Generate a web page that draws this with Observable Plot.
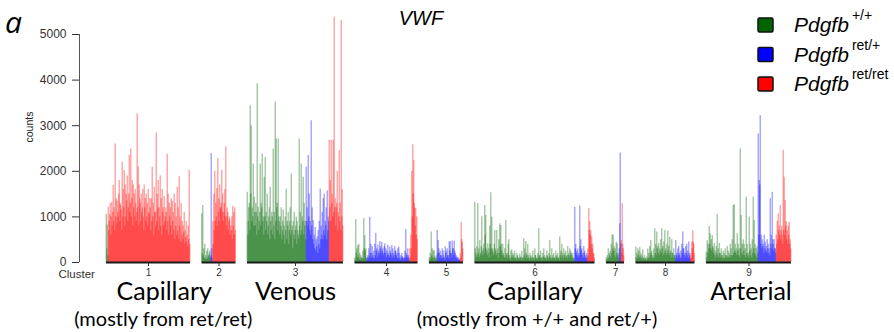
<!DOCTYPE html>
<html><head><meta charset="utf-8">
<script src="https://cdn.jsdelivr.net/npm/d3@7"></script>
<script src="https://cdn.jsdelivr.net/npm/@observablehq/plot@0.6"></script>
<style>
html,body{margin:0;padding:0;background:#fff;}
#chart{position:relative;width:894px;height:332px;overflow:hidden;background:#fff;}
#chart svg{position:absolute;left:0;top:0;}
</style></head><body><div id="chart"></div>
<script>
// ---------------- data ----------------
const genotypes = ["+/+", "ret/+", "ret/ret"];
const genotypeColors = ["#006400", "#0000ff", "#ff0000"];
const clusterLabels = ["1", "2", "3", "4", "5", "6", "7", "8", "9"];
const yTicks = [0, 1000, 2000, 3000, 4000, 5000];
const groupLabels = ["Capillary", "Venous", "Capillary", "Arterial"];
const groupSpans = [["1", "2"], ["3", "3"], ["6", "6"], ["9", "9"]];
const noteLabels = ["(mostly from ret/ret)", "(mostly from +/+ and ret/+)"];
const noteSpans = [["1", "2"], ["6", "6"]];

// VWF counts per cell, in cell order, per cluster and genotype
const cluster1_wt = [1060,300, 820,150];
const cluster1_het = [];
const cluster1_ret = [1210,700, 900,1050, 1300,600, 1000,1320, 800,1100, 1690,900, 1200,700, 2600,1000, 1400,850, 1350,1100, 1000,1500, 1800,900, 1300,1250, 1150,700, 2200,1000, 1600,1200, 2020,800, 1700,1000, 1500,1350, 1900,900, 1200,1500, 2350,1100, 1300,2490, 1000,1400, 1800,800, 1700,1200, 1500,1000, 1600,1300, 900,1100, 3260,1200, 2100,800, 1700,1400, 1300,900, 1500,1100, 1200,1600, 1000,700, 1700,1200, 1400,900, 1500,1000, 1300,800, 1600,1100, 1050,1400, 1200,700, 1400,900, 2090,1000, 1300,600, 1650,1100, 1100,800, 2840,900, 1500,1200, 1800,700, 1200,1000, 1900,800, 1400,600, 1600,1100, 1200,800, 1450,900, 1000,1200, 1100,700, 2370,900, 1500,600, 1300,1000, 1200,800, 1400,600, 1350,900, 1100,700, 1500,500, 1300,800, 1000,600, 1650,700, 1200,500, 1880,800, 1000,450, 1300,600, 900,500, 800,650, 1100,400, 700,550, 900,450, 600,350, 800,500, 2020,400];

const cluster2_wt = [1070,200, 1250,150, 300,80, 400,100, 150,60, 250,80, 300,120, 150,200, 250,100];
const cluster2_het = [150,2390, 300,100];
const cluster2_ret = [900,400, 1500,700, 2000,900, 1300,1000, 1620,800, 2280,1100, 1400,900, 1700,1200, 1200,1300, 2020,1100, 1500,900, 1100,1300, 1600,1000, 2540,800, 1000,1200, 1100,700, 900,1000, 950,600, 800,700, 1000,500, 1230,800, 1100,600, 1200,700];

const cluster3_wt = [1540,600, 900,1200, 1300,700, 3440,1500, 3000,900, 1200,1000, 2160,800, 1430,1100, 800,1300, 1100,600, 3920,1000, 1210,700, 900,1100, 2160,800, 1300,1200, 2380,900, 1000,600, 1870,1000, 2300,700, 1100,900, 1500,600, 800,1000, 1200,500, 1650,900, 700,1100, 1000,600, 2490,800, 1100,500, 3520,900, 2710,1200, 1300,700, 2710,1000, 900,600, 1000,800, 1200,500, 700,900, 1150,600, 800,400, 1000,700, 1610,500, 900,800, 1100,400, 700,900, 1200,600, 1940,700, 800,300, 900,600, 1100,500, 700,800, 1000,400, 900,700, 600,500, 2710,800, 1100,600, 2160,700, 1000,900, 1870,600, 1300,800, 900,500];
const cluster3_het = [2090,900, 1200,800, 2350,1000, 1500,700, 900,600, 3110,800, 1200,500, 920,400, 600,300, 770,250, 500,350, 560,200, 700,400, 900,300, 1610,500, 800,600, 1100,500, 1400,700, 1500,600, 900,800, 1200,500, 1570,700, 1000,900];
const cluster3_ret = [2680,1200, 1800,900, 2680,1300, 1500,1000, 2680,1100, 5380,1200, 1400,800, 1200,1300, 2000,700, 1100,1000, 2460,900, 1300,700, 5310,1000, 1600,800];

const cluster4_wt = [100,50, 940,200, 300,100, 370,150, 400,80, 200,50, 150,100, 100,60, 250,80, 960,300, 590,250, 300,100];
const cluster4_het = [50,100, 150,80, 300,120, 990,200, 400,100, 200,350, 150,100, 250,80, 400,150, 640,250, 300,100, 380,200, 250,150, 460,300, 350,200, 440,250, 300,150, 200,350, 410,200, 300,100, 250,150, 380,200, 150,100, 340,250, 200,150, 370,100, 300,200, 150,100, 350,250, 250,150, 200,100, 300,80, 340,200, 100,50, 150,80, 200,120, 120,60, 100,80, 250,100, 720,200, 150,100, 300,150, 100,50];
const cluster4_ret = [300,100, 600,300, 2000,1000, 2580,1500, 2240,1300, 1200,800, 1180,600, 1000,500];

const cluster5_wt = [100,50, 200,100, 670,150, 300,100, 250,80, 260,120, 100,50, 150,80];
const cluster5_het = [700,200, 480,300, 200,100, 250,150, 150,80, 300,100, 250,150, 100,50, 340,200, 250,100, 300,150, 150,80, 450,250, 460,200, 200,100, 470,300, 300,150, 470,250, 200,100, 150,80, 120,60, 100,50, 80,40];
const cluster5_ret = [200,100, 880,500, 450,300];

const cluster6_wt = [1320,300, 200,100, 350,150, 1290,200, 300,100, 480,150, 200,350, 1000,250, 150,300, 400,200, 1250,600, 1030,300, 250,150, 410,200, 300,100, 800,400, 1530,300, 990,250, 300,150, 200,400, 700,300, 250,150, 700,200, 300,100, 500,200, 850,350, 810,400, 250,150, 400,200, 150,100, 300,100, 920,200, 150,80, 200,400, 500,150, 100,50, 250,100, 280,150, 100,200, 150,80, 250,100, 100,50, 200,120, 150,80, 100,60, 180,100, 120,50, 250,100, 100,60, 520,150, 300,100, 460,200, 150,80, 400,150, 100,50, 200,100, 150,80, 120,60, 250,100, 100,50, 300,150, 150,80, 100,60, 200,100, 740,150, 150,80, 250,100, 100,50, 200,120, 300,80, 150,100, 100,50, 250,150, 120,60, 200,100, 480,150, 100,60, 300,100, 150,80, 200,100, 100,50, 250,120, 150,80, 200,100, 100,50, 560,150, 250,100, 400,200, 150,80, 300,150, 200,100, 250,120, 150,80, 350,150, 200,100, 300,150, 250,200, 150,100, 200,80, 100,50];
const cluster6_het = [1210,300, 400,200, 250,150, 300,100, 200,150, 1240,350, 500,250, 300,150, 200,100, 350,200, 250,100, 150,80, 200,100];
const cluster6_ret = [300,150, 1180,700, 900,600, 700,400, 560,300, 400,200, 200,100];

const cluster7_wt = [100,50, 150,80, 300,100, 200,150, 250,100, 400,200, 610,300, 600,250, 350,150, 300,100, 450,200, 410,150, 200,100];
const cluster7_het = [300,850, 2400,400];
const cluster7_ret = [480,200, 1290,400, 300,150];

const cluster8_wt = [340,100, 200,80, 300,150, 250,100, 330,120, 200,80, 150,60, 280,100, 100,50, 150,80, 80,40, 120,60, 300,100, 200,80, 350,150, 480,200, 250,100, 150,80, 300,100, 740,200, 400,150, 670,300, 350,200, 420,150, 300,250, 500,200, 740,300, 350,150, 450,200, 700,250, 300,150, 400,200, 690,250, 350,150, 550,200, 250,100, 500,200, 200,100, 300,150, 150,80];
const cluster8_het = [480,150, 200,100, 300,150, 350,200, 150,80, 250,100, 400,200, 670,300, 300,150, 200,100, 350,200, 400,150, 250,100, 450,200, 150,80];
const cluster8_ret = [200,100, 450,300, 700,450, 400,200];

const cluster9_wt = [230,100, 480,200, 400,300, 790,400, 630,300, 500,250, 590,350, 300,200, 420,150, 250,100, 350,200, 1050,150, 300,100, 420,200, 200,100, 300,150, 150,80, 250,100, 200,80, 300,150, 150,100, 350,120, 250,100, 200,150, 400,100, 300,150, 500,150, 1250,200, 1270,250, 400,200, 300,150, 630,250, 400,150, 300,100, 2490,300, 1030,200, 400,150, 500,250, 400,150, 300,100, 1430,200, 400,150, 200,100, 990,250, 400,150, 300,100, 500,200, 1430,300, 920,200, 400,150, 300,100, 350,200];
const cluster9_het = [2820,600, 1800,1700, 3220,400, 600,300, 500,350, 400,200, 600,300, 450,250, 350,200, 500,300, 400,200, 300,150, 1400,400, 600,300, 1540,500, 400,250, 500,300, 300,200];
const cluster9_ret = [600,400, 900,500, 1070,700, 800,600, 1250,500, 700,800, 600,400, 2460,700, 1870,600, 1360,800, 900,500, 700,400, 800,600, 880,400, 500,300];

// ---------------- layout ----------------
const byCluster = [
  [cluster1_wt, cluster1_het, cluster1_ret],
  [cluster2_wt, cluster2_het, cluster2_ret],
  [cluster3_wt, cluster3_het, cluster3_ret],
  [cluster4_wt, cluster4_het, cluster4_ret],
  [cluster5_wt, cluster5_het, cluster5_ret],
  [cluster6_wt, cluster6_het, cluster6_ret],
  [cluster7_wt, cluster7_het, cluster7_ret],
  [cluster8_wt, cluster8_het, cluster8_ret],
  [cluster9_wt, cluster9_het, cluster9_ret]
];
const CELLS_PER_PX = 2, GAP = 23, LEFT_PAD = 54, RIGHT_PAD = 6, CELL_SPAN = 3;
const HALF = (CELL_SPAN - 1) / 2;
let pos = 0;
const cells = [], spans = [];
byCluster.forEach((groups, ci) => {
  const start = pos;
  groups.forEach((vals, gi) => vals.forEach(v => {
    cells.push({cluster: clusterLabels[ci], genotype: genotypes[gi], counts: v, x1: pos - HALF, x2: pos + 1 + HALF});
    pos += 1;
  }));
  spans.push({cluster: clusterLabels[ci], start, end: pos, mid: (start + pos) / 2});
  pos += GAP;
});
const end = pos - GAP;
const spanOf = c => spans.find(s => s.cluster === c);
const midOf = ([a, b]) => (spanOf(a).start + spanOf(b).end) / 2;

const W = 894, H = 332, ML = 79, MT = 34, MB = 70;
const MR = W - ML - (end + LEFT_PAD + RIGHT_PAD) / CELLS_PER_PX;

const groupText = (labels, sp, size, dy, dxs) => labels.map((t, i) =>
  Plot.text([t], {x: () => midOf(sp[i]), frameAnchor: "bottom", text: d => d, lineAnchor: "bottom",
    dy, dx: dxs[i], fontSize: size, fontFamily: "Lato", fill: "#000"}));

const plot = Plot.plot({
  width: W, height: H,
  marginLeft: ML, marginRight: MR, marginTop: MT, marginBottom: MB,
  style: {fontFamily: "'Liberation Sans', Arial, sans-serif", background: "transparent", overflow: "visible"},
  x: {domain: [-LEFT_PAD, end + RIGHT_PAD]},
  y: {domain: [0, 5000]},
  color: {domain: genotypes, range: genotypeColors},
  marks: [
    Plot.rect(cells, {x1: "x1", x2: "x2", y1: 0, y2: "counts", fill: "genotype", fillOpacity: 0.34}),
    Plot.ruleY(spans, {y: 0, x1: "start", x2: "end", stroke: "#1a1a1a", strokeWidth: 2}),
    Plot.ruleX([-LEFT_PAD], {y1: 0, y2: 5000, stroke: "#555", strokeWidth: 1}),
    Plot.axisY(yTicks, {tickSize: 7, tickPadding: 6, fontSize: 12, label: null, tickFormat: "d", color: "#333"}),
    Plot.axisX(spans.map(d => d.mid), {tickSize: 4, tickPadding: 2, fontSize: 10, label: null,
      tickFormat: m => spans.find(s => s.mid === m).cluster, color: "#333"}),
    Plot.text(["counts"], {text: d => d, frameAnchor: "left", dx: -50, dy: -6, rotate: -90, fontSize: 10.5, fill: "#222"}),
    Plot.text(["Cluster"], {text: d => d, frameAnchor: "bottom-left", textAnchor: "start", lineAnchor: "top", dx: -21, dy: 7, fontSize: 11.5, fill: "#333"}),
    ...groupText(groupLabels, groupSpans, 25, 37, [-7, 0, 0, 2]),
    ...groupText(noteLabels, noteSpans, 20, 63, [-8, 2])
  ]
});
document.getElementById("chart").appendChild(plot);

// ---------------- overlay: panel letter, title, legend ----------------
const ov = d3.select("#chart").append("svg").attr("width", W).attr("height", H);
ov.append("text").attr("x", 5).attr("y", 33).attr("font-family", "'Open Sans'").attr("font-style", "italic")
  .attr("font-size", 30).text("a");
ov.append("text").attr("x", 421).attr("y", 25).attr("text-anchor", "middle")
  .attr("font-family", "'Liberation Sans', Arial, sans-serif").attr("font-style", "italic").attr("font-size", 20).text("VWF");
const lg = ov.selectAll("g.item").data(genotypes).join("g").attr("class", "item")
  .attr("transform", (d, i) => `translate(758,${18 + i * 29.5})`);
lg.append("rect").attr("width", 15).attr("height", 14).attr("rx", 1.5)
  .attr("fill", (d, i) => genotypeColors[i]).attr("stroke", "#111").attr("stroke-width", 1.5);
const lt = lg.append("text").attr("x", 36).attr("y", 14)
  .attr("font-family", "'Liberation Sans', Arial, sans-serif").attr("font-size", 21);
lt.append("tspan").attr("font-style", "italic").text("Pdgfb");
lt.append("tspan").attr("dx", 3).attr("dy", -12).attr("font-size", 14).text(d => d);
</script></body></html>
